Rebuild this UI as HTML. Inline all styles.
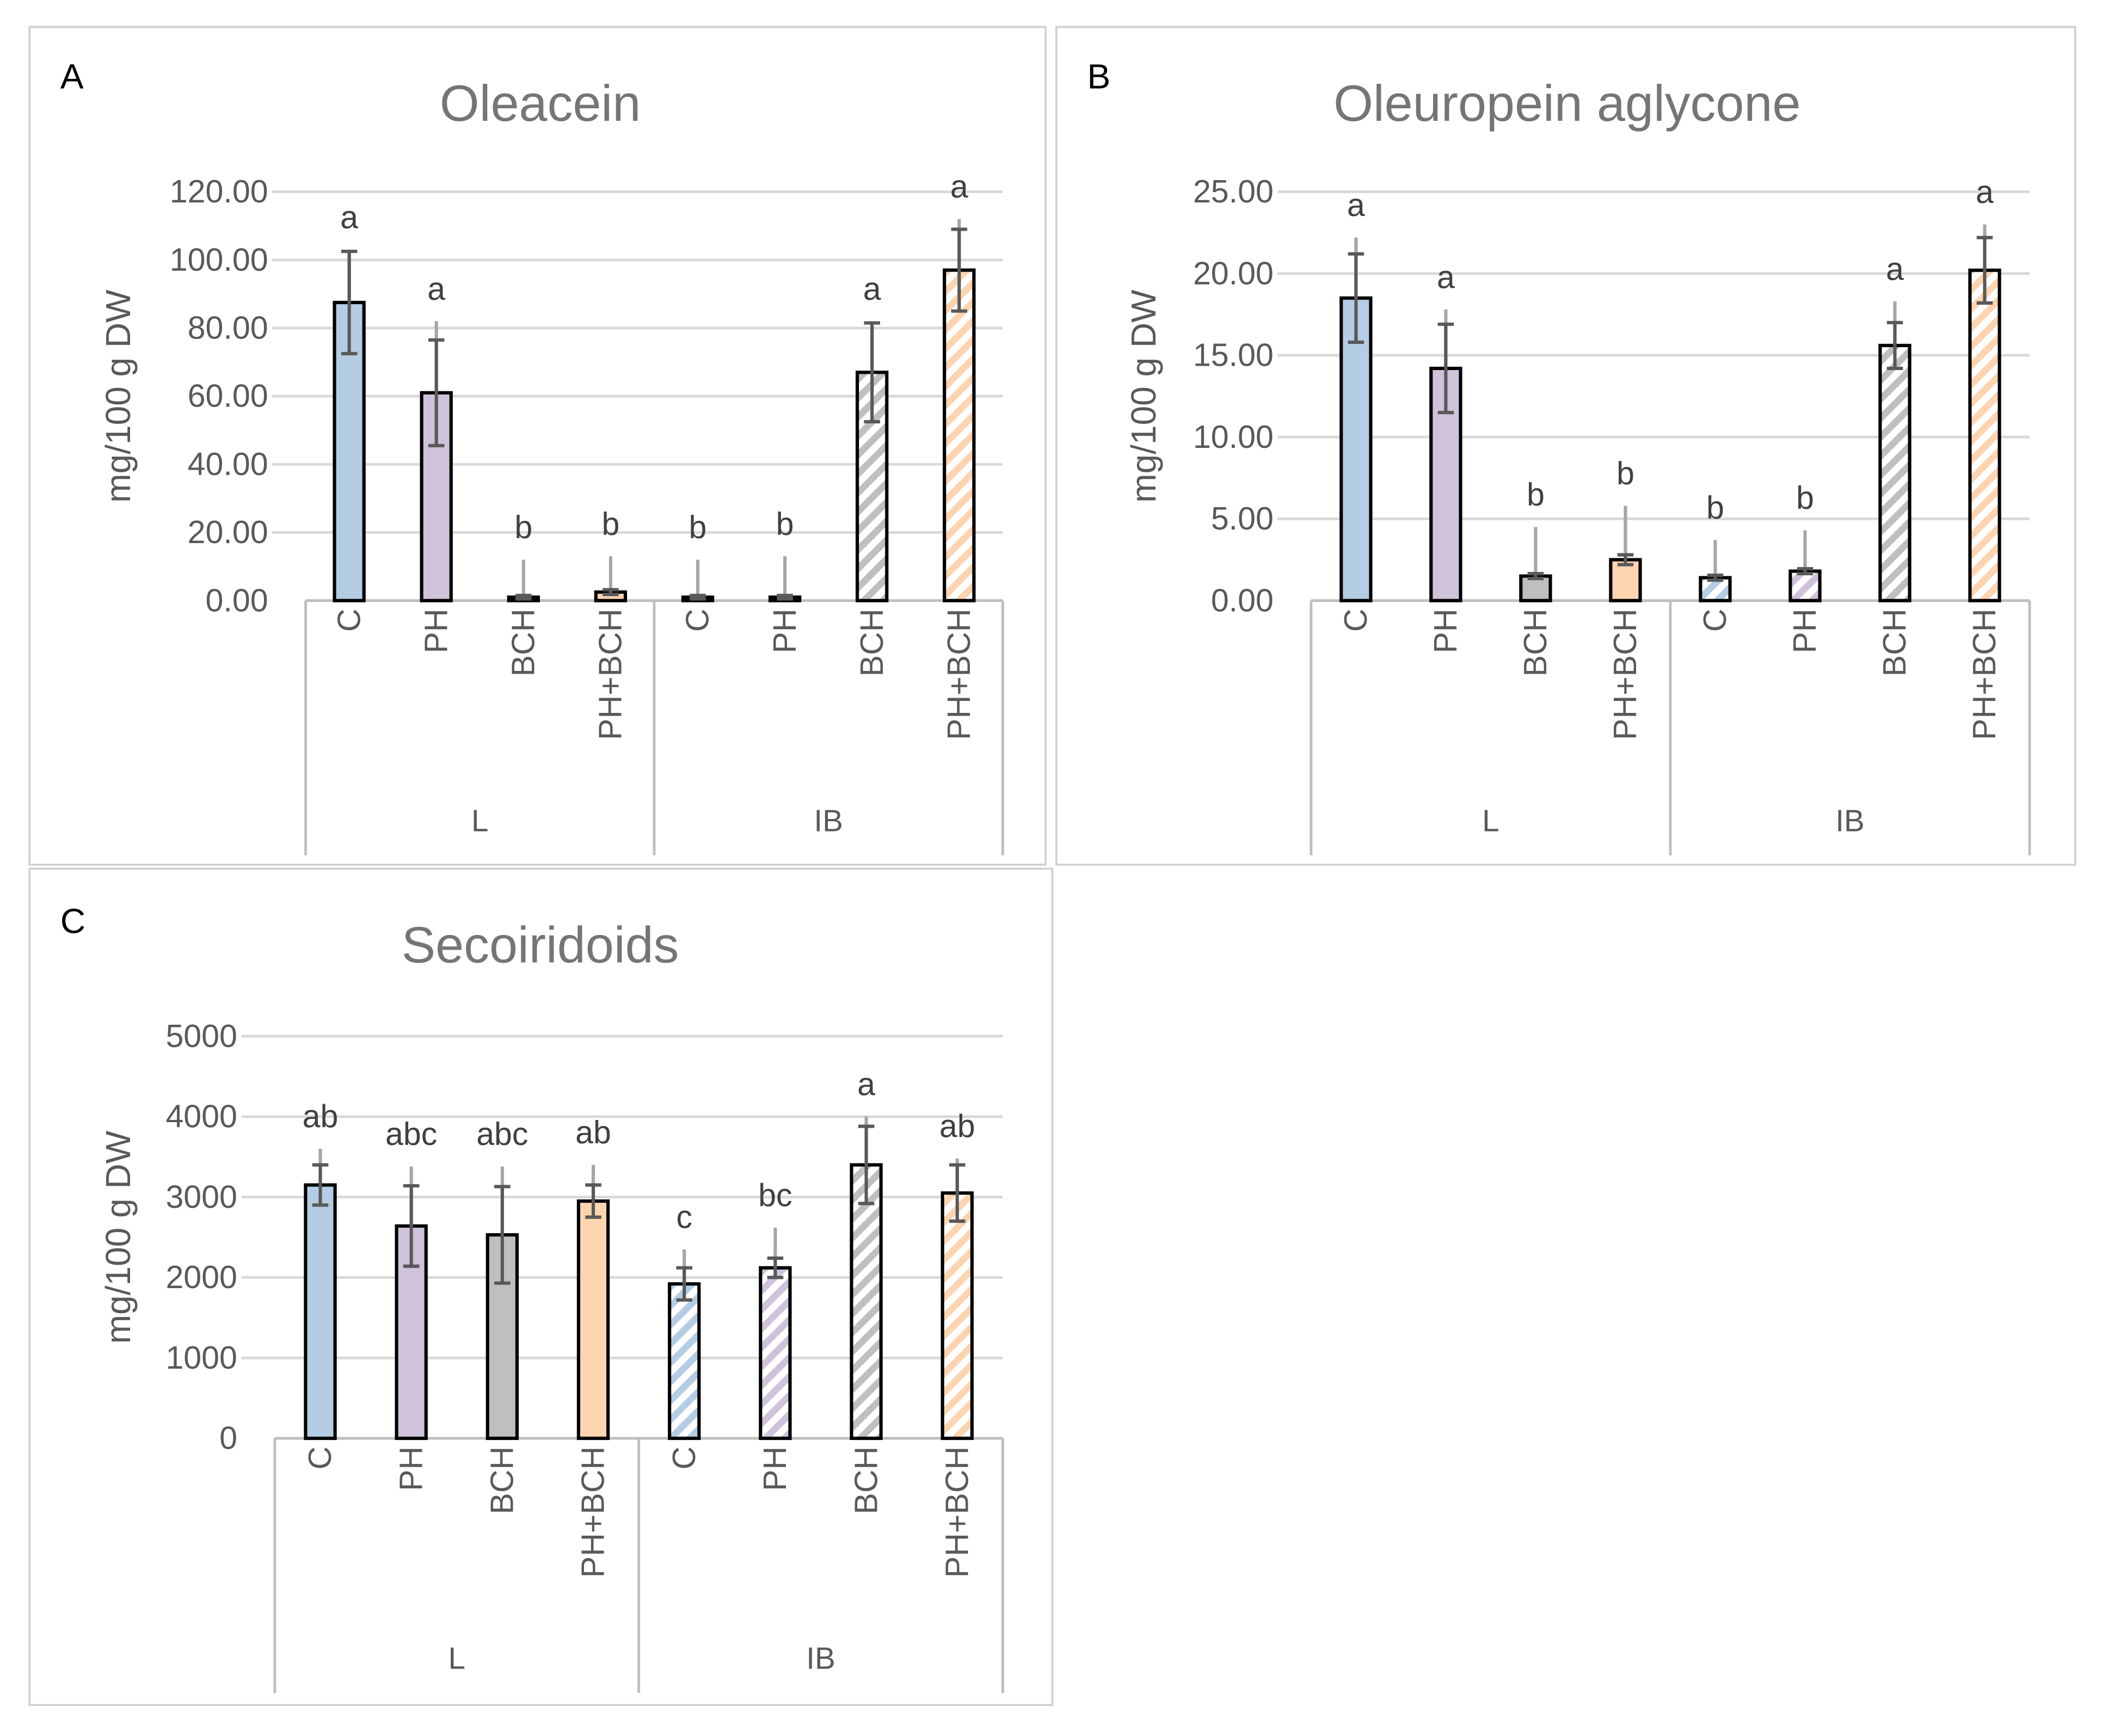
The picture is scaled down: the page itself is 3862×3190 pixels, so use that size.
<!DOCTYPE html>
<html><head><meta charset="utf-8"><style>
html,body{margin:0;padding:0;background:#fff}
svg{display:block}
text{font-family:"Liberation Sans",sans-serif}
</style></head><body>
<svg id="fig" width="3862" height="3190" viewBox="0 0 1568 1295" xmlns="http://www.w3.org/2000/svg">
<defs>
<pattern id="h-blue" patternUnits="userSpaceOnUse" width="10" height="10" patternTransform="rotate(45)"><rect width="10" height="10" fill="#fff"/><rect width="5" height="10" fill="#b4cde4"/></pattern>
<pattern id="h-purple" patternUnits="userSpaceOnUse" width="10" height="10" patternTransform="rotate(45)"><rect width="10" height="10" fill="#fff"/><rect width="5" height="10" fill="#cfc3dc"/></pattern>
<pattern id="h-gray" patternUnits="userSpaceOnUse" width="10" height="10" patternTransform="rotate(45)"><rect width="10" height="10" fill="#fff"/><rect width="5" height="10" fill="#bfbfbf"/></pattern>
<pattern id="h-peach" patternUnits="userSpaceOnUse" width="10" height="10" patternTransform="rotate(45)"><rect width="10" height="10" fill="#fff"/><rect width="5" height="10" fill="#fdd4b0"/></pattern>
</defs>
<rect x="22" y="20" width="758" height="625" fill="none" stroke="#d0d0d0" stroke-width="1.5"/>
<rect x="788" y="20" width="760" height="625" fill="none" stroke="#d0d0d0" stroke-width="1.5"/>
<rect x="22" y="648" width="763" height="624" fill="none" stroke="#d0d0d0" stroke-width="1.5"/>
<text x="45" y="66" font-size="26" fill="#000">A</text>
<text x="811" y="66" font-size="26" fill="#000">B</text>
<text x="45" y="696" font-size="26" fill="#000">C</text>
</svg>
<script>
const categories = ["C","PH","BCH","PH+BCH","C","PH","BCH","PH+BCH"];
const groups = ["L","IB"];
const oleaceinValues = [87.5,61,1,2.5,1,1,67,97];
const oleaceinErr = [15,15.5,0.5,0.7,0.5,0.5,14.5,12];
const oleaceinTop = [103,82,12,13,12,13,82,112];
const oleaceinLetters = ["a","a","b","b","b","b","a","a"];
const oleaceinTicks = ["0.00","20.00","40.00","60.00","80.00","100.00","120.00"];
const aglyValues = [18.5,14.2,1.5,2.5,1.4,1.8,15.6,20.2];
const aglyErr = [2.7,2.7,0.15,0.3,0.15,0.15,1.4,2];
const aglyTop = [22.2,17.8,4.5,5.8,3.7,4.3,18.3,23];
const aglyLetters = ["a","a","b","b","b","b","a","a"];
const aglyTicks = ["0.00","5.00","10.00","15.00","20.00","25.00"];
const secoValues = [3150,2640,2530,2950,1920,2120,3400,3050];
const secoErr = [250,500,600,200,200,120,480,350];
const secoTop = [3600,3380,3380,3400,2350,2620,4000,3480];
const secoLetters = ["ab","abc","abc","ab","c","bc","a","ab"];
const secoTicks = ["0","1000","2000","3000","4000","5000"];
const hatchedA = [false,false,false,false,true,true,true,true];
const fills = ["#b4cde4","#cfc3dc","#bfbfbf","#fdd4b0"];
const hatches = ["url(#h-blue)","url(#h-purple)","url(#h-gray)","url(#h-peach)"];
const NS="http://www.w3.org/2000/svg";
const svg=document.getElementById('fig');
function mk(tag,attrs,parent){const e=document.createElementNS(NS,tag);for(const k in attrs)e.setAttribute(k,attrs[k]);(parent||svg).appendChild(e);return e;}
function chart(o){
  const g=mk('g',{});
  
  
  const max=parseFloat(o.ticks[o.ticks.length-1]);
  const y=v=>o.y0-(v/max)*(o.y0-o.yTop);
  const bw=(o.x1-o.x0)/categories.length;
  const xc=i=>o.x0+bw*(i+0.5);
  o.ticks.forEach(t=>{const v=parseFloat(t);
    if(v>0){const l=mk('line',{x1:o.x0-25,x2:o.x1,y1:y(v),y2:y(v),stroke:'#d9d9d9','stroke-width':2},g);
    
    }
    const tx=mk('text',{x:o.x0-28,y:y(v)+8,'font-size':24,fill:'#595959','text-anchor':'end'},g);tx.textContent=t;
    
    
  });
  const ax=mk('line',{x1:o.x0,x2:o.x1,y1:o.y0,y2:o.y0,stroke:'#bfbfbf','stroke-width':2},g);
  
  
  [0,4,8].forEach(k=>{const xx=o.x0+bw*k;const l=mk('line',{x1:xx,x2:xx,y1:o.y0,y2:o.gy+18,stroke:'#bfbfbf','stroke-width':2},g);
    
    });
  o.vals.forEach((v,i)=>{
    const x=xc(i);
    const hatched=o.hatched[i];
    const r=mk('rect',{x:x-11,y:y(v),width:22,height:o.y0-y(v),fill:hatched?hatches[i%4]:fills[i%4],stroke:'#000','stroke-width':2.5},g);
    
    
    const gl=mk('line',{x1:x,x2:x,y1:y(v),y2:y(o.top[i]),stroke:'#a6a6a6','stroke-width':2.5},g);
    
    
    const e=o.err[i];
    const p=mk('path',{d:`M${x},${y(v-e)}V${y(v+e)}M${x-6},${y(v-e)}H${x+6}M${x-6},${y(v+e)}H${x+6}`,stroke:'#595959','stroke-width':2.5,fill:'none'},g);
    
    
    const lt=mk('text',{x:x,y:y(o.top[i])-16,'font-size':24,fill:'#404040','text-anchor':'middle'},g);lt.textContent=o.letters[i];
    
    
    const ct=mk('text',{x:0,y:0,'font-size':24,fill:'#595959','text-anchor':'end',transform:`translate(${x+8},${o.y0+6}) rotate(-90)`},g);ct.textContent=categories[i];
    
    
  });
  groups.forEach((gn,k)=>{const t=mk('text',{x:o.x0+bw*(4*k+2),y:o.gy,'font-size':23,fill:'#595959','text-anchor':'middle'},g);t.textContent=gn;
    
    });
  const tt=mk('text',{x:o.tx,y:o.ty,'font-size':38,fill:'#757575','text-anchor':'middle'},g);tt.textContent=o.title;
  
  
  const yt=mk('text',{x:0,y:0,'font-size':26,fill:'#595959','text-anchor':'middle',transform:`translate(${o.ax},${(o.y0+o.yTop)/2}) rotate(-90)`},g);yt.textContent='mg/100 g DW';
  
  
}
chart({name:'chart-oleacein',title:'Oleacein',x0:228,x1:748,y0:448,yTop:143,gy:620,tx:403,ty:90,ax:97,vals:oleaceinValues,err:oleaceinErr,top:oleaceinTop,letters:oleaceinLetters,ticks:oleaceinTicks,hatched:hatchedA});
chart({name:'chart-oleuropein-aglycone',title:'Oleuropein aglycone',x0:978,x1:1514,y0:448,yTop:143,gy:620,tx:1169,ty:90,ax:862,vals:aglyValues,err:aglyErr,top:aglyTop,letters:aglyLetters,ticks:aglyTicks,hatched:hatchedA});
chart({name:'chart-secoiridoids',title:'Secoiridoids',x0:205,x1:748,y0:1073,yTop:773,gy:1245,tx:403,ty:718,ax:97,vals:secoValues,err:secoErr,top:secoTop,letters:secoLetters,ticks:secoTicks,hatched:hatchedA});
</script>
</body></html>
